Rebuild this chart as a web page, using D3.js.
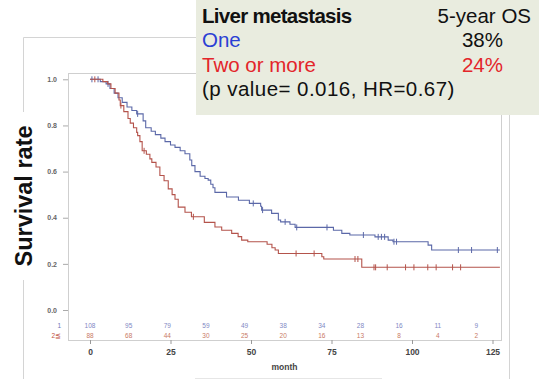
<!DOCTYPE html>
<html><head><meta charset="utf-8">
<script src="https://cdn.jsdelivr.net/npm/d3@7"></script>
<style>body{margin:0;background:#fff;}svg{display:block;}</style>
</head><body>
<svg id="c" width="539" height="379"></svg>
<script>
// ---- data ----
const blueTime = [0, 3.2, 5, 6.2, 7.5, 8.7, 10, 11.5, 13, 14.5, 16.5, 17.3, 19, 20.3, 22, 23.3, 25, 26.4, 28, 29.5, 31, 31.6, 32.6, 34.2, 35.7, 36.7, 37.5, 38.2, 38.8, 42.4, 46.1, 49.5, 53, 53.3, 56.4, 58.5, 59.2, 62.1, 63.7, 75.6, 78.2, 80.7, 88.5, 92.6, 94.1, 105, 106.1];
const blueSurv = [1.0, 0.99, 0.98, 0.96, 0.94, 0.92, 0.90, 0.88, 0.865, 0.85, 0.82, 0.79, 0.775, 0.76, 0.745, 0.73, 0.715, 0.705, 0.69, 0.677, 0.65, 0.626, 0.60, 0.58, 0.57, 0.563, 0.545, 0.53, 0.51, 0.49, 0.476, 0.462, 0.45, 0.433, 0.419, 0.39, 0.382, 0.372, 0.358, 0.346, 0.332, 0.325, 0.317, 0.303, 0.296, 0.281, 0.26];
const blueCensor = [0.6, 2.5, 5.6, 14.8, 50.7, 53.6, 60.6, 64.2, 73.6, 84.9, 89.5, 90.5, 91.5, 94.4, 95.2, 114.4, 118.5, 126.5];
const redTime = [0, 4, 5.5, 6.5, 7.8, 9, 9.4, 10.5, 11.8, 12.5, 13.5, 14.5, 14.8, 15.5, 16.2, 17.5, 18.6, 19.2, 20.5, 21.7, 23, 24.3, 25.5, 26.4, 27.4, 29.5, 31.5, 35.5, 38.8, 40.9, 44, 46, 47.1, 49, 55, 56.5, 57.5, 58.5, 72, 72.6, 84.4];
const redSurv = [1.0, 0.99, 0.98, 0.96, 0.94, 0.91, 0.886, 0.86, 0.83, 0.81, 0.79, 0.77, 0.756, 0.73, 0.69, 0.675, 0.655, 0.64, 0.62, 0.583, 0.56, 0.525, 0.50, 0.48, 0.446, 0.424, 0.404, 0.38, 0.36, 0.346, 0.332, 0.318, 0.303, 0.296, 0.285, 0.27, 0.26, 0.245, 0.231, 0.221, 0.185];
const redCensor = [1.5, 9.6, 16.8, 32.1, 64.0, 69.6, 82.3, 83.2, 88.2, 88.7, 92.3, 98, 100.6, 104.9, 107.5, 112.6, 115.1];
const followEnd = 127.3;
const xTicks = [0, 25, 50, 75, 100, 125];
const yTicks = [0, 0.2, 0.4, 0.6, 0.8, 1.0];
const riskTimes = [0, 12, 24, 36, 48, 60, 72, 84, 96, 108, 120];
const riskOne = [108, 95, 79, 59, 49, 38, 34, 28, 16, 11, 9];
const riskTwo = [88, 68, 44, 30, 25, 20, 16, 13, 8, 4, 2];
const legendRows = [
  {label: "Liver metastasis", value: "5-year OS", color: "#111", valueColor: "#111", bold: true},
  {label: "One", value: "38%", color: "#2b3fd4", valueColor: "#111", bold: false},
  {label: "Two or more", value: "24%", color: "#e3252a", valueColor: "#e3252a", bold: false}
];
const statsText = "(p value= 0.016, HR=0.67)";

// ---- drawing ----
const svg = d3.select("#c");
const x = d3.scaleLinear().domain([0, 125]).range([90, 492.5]);
const y = d3.scaleLinear().domain([0, 1]).range([310, 79.3]);
const frame = {l: 68, t: 73, r: 501, b: 340};
const blueC = "#5b68a8", redC = "#b4534b";

// outer faint frame
const outer = svg.append("g").attr("stroke", "#d4d4d4").attr("stroke-width", 1).attr("fill", "none");
outer.append("line").attr("x1", 23.5).attr("x2", 23.5).attr("y1", 37.5).attr("y2", 379);
outer.append("line").attr("x1", 23.5).attr("x2", 200).attr("y1", 37.5).attr("y2", 37.5);
outer.append("line").attr("x1", 509.5).attr("x2", 509.5).attr("y1", 37.5).attr("y2", 379);
outer.append("line").attr("x1", 195).attr("x2", 382).attr("y1", 378.5).attr("y2", 378.5).attr("stroke", "#e6e6e6");

// plot frame
svg.append("rect").attr("x", frame.l + 0.5).attr("y", frame.t + 0.5)
  .attr("width", frame.r - frame.l).attr("height", frame.b - frame.t)
  .attr("fill", "none").attr("stroke", "#cfcfcf");

// y axis
const yAxis = svg.append("g").attr("transform", `translate(${frame.l},0)`)
  .call(d3.axisLeft(y).tickValues(yTicks).tickFormat(d3.format(".1f")).tickSize(5).tickPadding(6));
yAxis.select(".domain").remove();
yAxis.selectAll("line").attr("stroke", "#aaa");
yAxis.selectAll("text").attr("font-family", "Liberation Sans, Arial").attr("font-size", 7)
  .attr("font-weight", "bold").attr("fill", "#666");

// x axis
const xAxis = svg.append("g").attr("transform", `translate(0,${frame.b})`)
  .call(d3.axisBottom(x).tickValues(xTicks).tickSize(4).tickPadding(5));
xAxis.select(".domain").remove();
xAxis.selectAll("line").attr("stroke", "#999");
xAxis.selectAll("text").attr("font-family", "Liberation Sans, Arial").attr("font-size", 8.5)
  .attr("font-weight", "bold").attr("fill", "#444");

svg.append("text").attr("x", (frame.l + frame.r) / 2).attr("y", 370)
  .attr("text-anchor", "middle").attr("font-family", "Liberation Sans, Arial")
  .attr("font-size", 8.5).attr("font-weight", "bold").attr("fill", "#444").text("month");

// y title with white backing
svg.append("rect").attr("x", 9).attr("y", 112).attr("width", 28).attr("height", 168).attr("fill", "#fff");
svg.append("text").attr("transform", "translate(32,196) rotate(-90)")
  .attr("text-anchor", "middle").attr("font-family", "Liberation Sans, Arial")
  .attr("font-size", 23.5).attr("font-weight", "bold").attr("fill", "#111").text("Survival rate");

// survival curves
function stepPts(times, surv) {
  const pts = [];
  times.forEach((t, i) => {
    if (i > 0) pts.push([t, surv[i - 1]]);
    pts.push([t, surv[i]]);
  });
  pts.push([followEnd, surv[surv.length - 1]]);
  return pts;
}
function survAt(times, surv, t) {
  let s = surv[0];
  for (let i = 0; i < times.length; i++) if (times[i] <= t) s = surv[i];
  return s;
}
const line = d3.line().x(d => x(d[0])).y(d => y(d[1]));
[[blueTime, blueSurv, blueCensor, blueC], [redTime, redSurv, redCensor, redC]].forEach(([tt, ss, cc, col]) => {
  svg.append("path").attr("d", line(stepPts(tt, ss))).attr("fill", "none")
    .attr("stroke", col).attr("stroke-width", 1.1);
  svg.append("g").selectAll("line").data(cc).join("line")
    .attr("x1", d => x(d)).attr("x2", d => x(d))
    .attr("y1", d => y(survAt(tt, ss, d)) - 3).attr("y2", d => y(survAt(tt, ss, d)) + 3)
    .attr("stroke", col).attr("stroke-width", 1);
});

// number at risk
const riskG = svg.append("g").attr("font-family", "Liberation Sans, Arial").attr("font-size", 6.5)
  .attr("text-anchor", "middle");
riskG.selectAll(".r1").data(riskTimes).join("text").attr("class", "r1")
  .attr("x", d => x(d)).attr("y", 327.5).attr("fill", "#7f88c4").text((d, i) => riskOne[i]);
riskG.selectAll(".r2").data(riskTimes).join("text").attr("class", "r2")
  .attr("x", d => x(d)).attr("y", 338).attr("fill", "#c97a66").text((d, i) => riskTwo[i]);
riskG.append("text").attr("x", 61).attr("y", 327.5).attr("text-anchor", "end").attr("fill", "#6c76b8").text("1");
riskG.append("text").attr("x", 61).attr("y", 338).attr("text-anchor", "end").attr("fill", "#c0503e").text("2≦");

// legend box
svg.append("rect").attr("x", 196).attr("y", 0).attr("width", 343).attr("height", 115).attr("fill", "#e9ecdf");
const lg = svg.append("g").attr("font-family", "Liberation Sans, Arial").attr("font-size", 20.5);
legendRows.forEach((r, i) => {
  const by = 22.7 + i * 24.5;
  lg.append("text").attr("x", 202).attr("y", by).attr("fill", r.color)
    .attr("font-weight", r.bold ? "bold" : "normal").attr("letter-spacing", r.bold ? -0.7 : 0).text(r.label);
  lg.append("text").attr("x", i === 0 ? 531 : 503).attr("y", by).attr("text-anchor", "end")
    .attr("fill", r.valueColor).text(r.value);
});
lg.append("text").attr("x", 202).attr("y", 22.7 + 3 * 24.5).attr("fill", "#111")
  .attr("letter-spacing", 0.45).text(statsText);
</script>
</body></html>
